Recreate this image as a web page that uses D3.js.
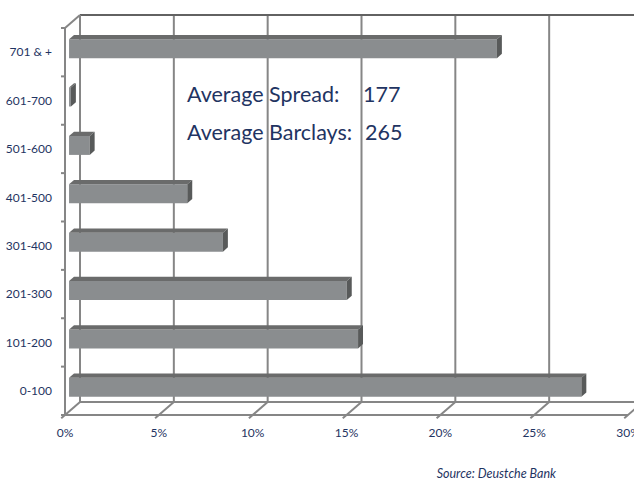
<!DOCTYPE html>
<html>
<head>
<meta charset="utf-8">
<script src="https://cdn.jsdelivr.net/npm/d3@7"></script>
<style>
  html, body { margin: 0; padding: 0; background: #fff; }
  svg { display: block; }
</style>
</head>
<body>
<svg id="chart" width="634" height="482"></svg>
<script>
// Spread buckets (top to bottom) and share of issues in each bucket (%)
const categories = ["701 & +", "601-700", "501-600", "401-500", "301-400", "201-300", "101-200", "0-100"];
const shares = [22.8, 0.1, 1.1, 6.3, 8.2, 14.8, 15.4, 27.3];
const xTicks = [0, 5, 10, 15, 20, 25, 30];
const summaryLabels = ["Average Spread:", "Average Barclays:"];
const summaryValues = [177, 265];
const sourceNote = "Source: Deustche Bank";

const svg = d3.select("#chart");
const textColor = "#1f3462";
const gridColor = "#868686";

// front-plane scales
const x = d3.scaleLinear().domain([0, 30]).range([65, 628]);
const y = d3.scaleBand().domain(categories).range([28, 415]).paddingInner(0).paddingOuter(0);
const floorY = 415;
const topY = 28;

// depth projection: z = 0 at the front plane, z = 1 at the back wall
const DX = 15, DY = -13;
const P = (v, yy, z) => [x(v) + DX * z, yy + DY * z];
const pts = arr => arr.map(p => p.join(",")).join(" ");

const g = svg.append("g");

// back wall gridlines
g.selectAll("line.grid").data(xTicks.filter(t => t > 0)).join("line")
  .attr("class", "grid")
  .attr("x1", d => P(d, topY, 1)[0]).attr("y1", P(0, topY, 1)[1])
  .attr("x2", d => P(d, floorY, 1)[0]).attr("y2", P(0, floorY, 1)[1])
  .attr("stroke", gridColor).attr("stroke-width", 2);

// back wall top edge
g.append("line")
  .attr("x1", P(0, topY, 1)[0]).attr("y1", P(0, topY, 1)[1])
  .attr("x2", P(31, topY, 1)[0]).attr("y2", P(0, topY, 1)[1])
  .attr("stroke", "#626262").attr("stroke-width", 2);

// floor: back edge, front edge and depth lines at each tick
g.append("line")
  .attr("x1", P(0, floorY, 1)[0]).attr("y1", P(0, floorY, 1)[1])
  .attr("x2", P(31, floorY, 1)[0]).attr("y2", P(0, floorY, 1)[1])
  .attr("stroke", gridColor).attr("stroke-width", 2);
g.append("line")
  .attr("x1", x(0) - 4).attr("y1", floorY)
  .attr("x2", x(30)).attr("y2", floorY)
  .attr("stroke", gridColor).attr("stroke-width", 2);
g.selectAll("line.floor").data(xTicks).join("line")
  .attr("class", "floor")
  .attr("x1", d => P(d, floorY, -0.25)[0]).attr("y1", P(0, floorY, -0.25)[1])
  .attr("x2", d => P(d, floorY, 1)[0]).attr("y2", P(0, floorY, 1)[1])
  .attr("stroke", gridColor).attr("stroke-width", 2);

// left wall: front edge, back edge, top edge
g.append("line")
  .attr("x1", x(0)).attr("y1", topY).attr("x2", x(0)).attr("y2", floorY)
  .attr("stroke", gridColor).attr("stroke-width", 2);
g.append("line")
  .attr("x1", P(0, topY, 1)[0]).attr("y1", P(0, topY, 1)[1])
  .attr("x2", P(0, floorY, 1)[0]).attr("y2", P(0, floorY, 1)[1])
  .attr("stroke", gridColor).attr("stroke-width", 2);
g.append("line")
  .attr("x1", x(0)).attr("y1", topY)
  .attr("x2", P(0, topY, 1)[0]).attr("y2", P(0, topY, 1)[1])
  .attr("stroke", gridColor).attr("stroke-width", 2);

// category boundary ticks
const bounds = categories.map(c => y(c)).concat([floorY]);
g.selectAll("line.ytick").data(bounds).join("line")
  .attr("class", "ytick")
  .attr("x1", x(0) - 4).attr("x2", x(0))
  .attr("y1", d => d).attr("y2", d => d)
  .attr("stroke", gridColor).attr("stroke-width", 2);

// 3D bars
const z0 = 0.27, z1 = 0.6;
const bw = y.bandwidth();
const bars = g.selectAll("g.bar").data(categories.map((c, i) => ({ c, v: shares[i] }))).join("g").attr("class", "bar");
bars.each(function (d) {
  const s = d3.select(this);
  const yT = y(d.c) + bw * 0.304;
  const yB = y(d.c) + bw * 0.696;
  s.append("polygon")
    .attr("points", pts([P(0, yT, z0), P(d.v, yT, z0), P(d.v, yB, z0), P(0, yB, z0)]))
    .attr("fill", "#8a8d8f");
  s.append("polygon")
    .attr("points", pts([P(0, yT, z0), P(d.v, yT, z0), P(d.v, yT, z1), P(0, yT, z1)]))
    .attr("fill", "#6a6b6b");
  s.append("polygon")
    .attr("points", pts([P(d.v, yT, z0), P(d.v, yT, z1), P(d.v, yB, z1), P(d.v, yB, z0)]))
    .attr("fill", "#585a5a");
});

// category labels
g.selectAll("text.cat").data(categories).join("text")
  .attr("class", "cat")
  .attr("x", 52).attr("y", d => y(d) + bw / 2)
  .attr("dy", "0.35em")
  .attr("text-anchor", "end")
  .attr("font-family", "Lato, 'Open Sans', sans-serif")
  .attr("font-size", 12)
  .attr("fill", textColor)
  .text(d => d);

// x tick labels
g.selectAll("text.xt").data(xTicks).join("text")
  .attr("class", "xt")
  .attr("x", d => x(d)).attr("y", 437)
  .attr("text-anchor", "middle")
  .attr("font-family", "Lato, 'Open Sans', sans-serif")
  .attr("font-size", 12)
  .attr("fill", textColor)
  .text(d => d + "%");

// summary text
const sy = [102, 140];
g.selectAll("text.slab").data(summaryLabels).join("text")
  .attr("class", "slab")
  .attr("x", 187).attr("y", (d, i) => sy[i])
  .attr("font-family", "Lato, 'Open Sans', sans-serif")
  .attr("font-size", 21.5)
  .attr("fill", textColor)
  .text(d => d);
g.selectAll("text.sval").data(summaryValues).join("text")
  .attr("class", "sval")
  .attr("x", (d, i) => i === 0 ? 363 : 365).attr("y", (d, i) => sy[i])
  .attr("font-family", "Lato, 'Open Sans', sans-serif")
  .attr("font-size", 21.5)
  .attr("fill", textColor)
  .text(d => d);

// source note
g.append("text")
  .attr("x", 556).attr("y", 478)
  .attr("text-anchor", "end")
  .attr("font-family", "Lato, 'Open Sans', sans-serif")
  .attr("font-style", "italic")
  .attr("font-size", 12.5)
  .attr("fill", textColor)
  .text(sourceNote);
</script>
</body>
</html>
